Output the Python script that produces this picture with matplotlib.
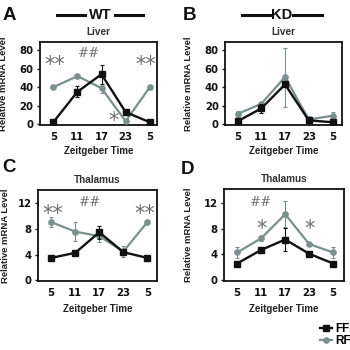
import matplotlib
matplotlib.use('Agg')
import matplotlib.pyplot as plt
from matplotlib.lines import Line2D

# ---------------- data ----------------
zt_labels = ['5', '11', '17', '23', '5']

liver_wt_ff = [2, 35, 54, 13, 2]
liver_wt_ff_err = [0.8, 6, 10, 1.5, 0.8]
liver_wt_rf = [40, 52, 39, 3, 40]
liver_wt_rf_err = [1.5, 2.5, 5, 1, 1.5]

liver_kd_ff = [3, 17, 43, 4, 2]
liver_kd_ff_err = [1, 5, 2, 1, 1]
liver_kd_rf = [11, 22, 51, 5, 9]
liver_kd_rf_err = [3, 2, 32, 1, 4]

thal_wt_ff = [3.5, 4.3, 7.5, 4.4, 3.5]
thal_wt_ff_err = [0.2, 0.2, 1.0, 0.3, 0.2]
thal_wt_rf = [9.1, 7.6, 6.9, 4.5, 9.1]
thal_wt_rf_err = [0.8, 1.5, 0.9, 0.9, 0.15]

thal_kd_ff = [2.6, 4.7, 6.3, 4.1, 2.6]
thal_kd_ff_err = [0.2, 0.2, 1.8, 0.2, 0.2]
thal_kd_rf = [4.3, 6.5, 10.2, 5.6, 4.3]
thal_kd_rf_err = [0.9, 0.4, 2.0, 0.2, 0.9]

liver_yticks = [0, 20, 40, 60, 80]
thal_yticks = [0, 4, 8, 12]

# annotations: (x position index, y value, text)
ann_a = [(0.05, 64, '**'), (1.5, 77, '##'), (2.5, 3, '*'), (3.85, 64, '**')]
ann_b = []
ann_c = [(0.05, 10.4, '**'), (1.6, 12.2, '##'), (3.9, 10.4, '**')]
ann_d = [(1.0, 12.0, '##'), (1.0, 8.0, '*'), (3.0, 8.0, '*')]

# ---------------- style ----------------
FONT = 'Liberation Sans'
BLACK = '#111111'
GRAY = '#7b8f8f'
ANN = '#6e6e6e'

plt.rcParams['font.family'] = [FONT, 'DejaVu Sans']

fig = plt.figure(figsize=(3.5, 3.5), dpi=100)
W = H = 350.0


def rect(l, t, r, b):
    return [l / W, 1 - b / H, (r - l) / W, (b - t) / H]


panels = [
    dict(rect=rect(40, 42, 157, 125), ff=liver_wt_ff, ffe=liver_wt_ff_err,
         rf=liver_wt_rf, rfe=liver_wt_rf_err, ylim=(-1, 89), yt=liver_yticks,
         xlim=(-0.55, 4.3), title='Liver', ann=ann_a, ylx=-0.27, tpad=5),
    dict(rect=rect(225, 42, 342, 125), ff=liver_kd_ff, ffe=liver_kd_ff_err,
         rf=liver_kd_rf, rfe=liver_kd_rf_err, ylim=(-1, 89), yt=liver_yticks,
         xlim=(-0.53, 4.4), title='Liver', ann=ann_b, ylx=-0.27, tpad=5),
    dict(rect=rect(38, 190, 157, 281), ff=thal_wt_ff, ffe=thal_wt_ff_err,
         rf=thal_wt_rf, rfe=thal_wt_rf_err, ylim=(-0.1, 14.1), yt=thal_yticks,
         xlim=(-0.55, 4.4), title='Thalamus', ann=ann_c, ylx=-0.235, tpad=5),
    dict(rect=rect(224, 189, 344, 281), ff=thal_kd_ff, ffe=thal_kd_ff_err,
         rf=thal_kd_rf, rfe=thal_kd_rf_err, ylim=(-0.1, 14.1), yt=thal_yticks,
         xlim=(-0.55, 4.45), title='Thalamus', ann=ann_d, ylx=-0.26, tpad=5),
]

x = list(range(len(zt_labels)))
handles = None
for p in panels:
    ax = fig.add_axes(p['rect'])
    rf_c = ax.errorbar(x, p['rf'], yerr=p['rfe'], color=GRAY, lw=1.6,
                       marker='o', ms=3.8, mfc=GRAY, mec=GRAY,
                       ecolor=GRAY, elinewidth=0.8, capsize=1.5, capthick=0.8,
                       zorder=3)
    ff_c = ax.errorbar(x, p['ff'], yerr=p['ffe'], color=BLACK, lw=1.7,
                       marker='s', ms=4.0, mfc=BLACK, mec=BLACK,
                       ecolor=BLACK, elinewidth=0.8, capsize=1.5, capthick=0.8,
                       zorder=4)
    handles = (ff_c.lines[0], rf_c.lines[0])
    ax.set_xlim(*p['xlim'])
    ax.set_ylim(*p['ylim'])
    ax.set_xticks(x)
    ax.set_xticklabels(zt_labels)
    ax.set_yticks(p['yt'])
    for s in ax.spines.values():
        s.set_linewidth(1.3)
        s.set_color(BLACK)
    ax.tick_params(axis='both', width=1.0, colors=BLACK)
    ax.tick_params(axis='y', length=2.5, pad=2)
    ax.tick_params(axis='x', length=0, pad=5)
    for lab in ax.get_xticklabels() + ax.get_yticklabels():
        lab.set_fontweight('bold')
        lab.set_family('DejaVu Sans')
        lab.set_fontsize(7.3)
    ax.set_ylabel('Relative mRNA Level', fontsize=6.8, fontweight='bold', color='#222222')
    ax.yaxis.set_label_coords(p['ylx'], 0.5)
    ax.set_xlabel('Zeitgeber Time', fontsize=7, fontweight='bold', color='#222222')
    ax.xaxis.set_label_coords(0.5, -0.25)
    ax.set_title(p['title'], fontsize=7.2, fontweight='bold', color='#333333', pad=p['tpad'])
    for (ax_x, ax_y, t) in p['ann']:
        if t.startswith('#'):
            ax.text(ax_x, ax_y, t, ha='center', va='center', fontsize=9.5,
                    color=ANN, family='DejaVu Serif')
        else:
            ax.text(ax_x, ax_y, t, ha='center', va='center', fontsize=15,
                    color=ANN, family='DejaVu Sans')

# panel letters
for lt, (px, py) in zip('ABCD', [(9, 16), (189, 16), (9, 168), (188, 169)]):
    fig.text(px / W, 1 - py / H, lt, fontsize=13.5, fontweight='bold',
             ha='center', va='center', color=BLACK)

# WT / KD headers
for lab, cx, l1, l2 in [('WT', 100, (57, 85), (115, 143)),
                        ('KD', 282, (242, 270), (293, 322))]:
    fig.text(cx / W, 1 - 15 / H, lab, fontsize=10.5, fontweight='bold',
             ha='center', va='center', color=BLACK)
    for (a, b) in (l1, l2):
        fig.add_artist(Line2D([a / W, b / W], [1 - 15 / H, 1 - 15 / H],
                              color=BLACK, lw=2.2))

# legend
fig.legend(handles, ['FF', 'RF'], loc='center left',
           bbox_to_anchor=(320 / W, 1 - 335 / H), frameon=False,
           prop={'weight': 'bold', 'size': 8.5},
           handlelength=1.0, handletextpad=0.3, labelspacing=0.0,
           borderpad=0, borderaxespad=0)

fig.savefig('out.png', dpi=100)
